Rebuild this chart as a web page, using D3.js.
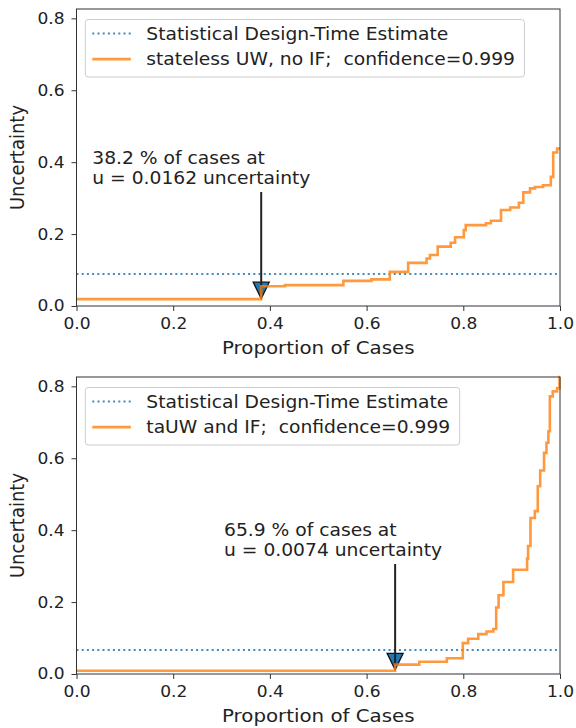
<!DOCTYPE html>
<html>
<head>
<meta charset="utf-8">
<script src="https://cdn.jsdelivr.net/npm/d3@7"></script>
<style>
  body { margin: 0; background: #fff; }
  text { font-family: "DejaVu Sans", sans-serif; fill: #222; white-space: pre; }
</style>
</head>
<body>
<svg id="chart" width="576" height="728"></svg>
<script>
// ---- data ----
const xTicks = [0, 0.2, 0.4, 0.6, 0.8, 1.0];
const yTicks = [0, 0.2, 0.4, 0.6, 0.8];

// top panel: stateless UW, no IF (step-after points)
const topX = [0, 0.382, 0.431, 0.552, 0.610, 0.648, 0.686, 0.724, 0.731, 0.747, 0.774, 0.783,
  0.801, 0.805, 0.847, 0.857, 0.878, 0.897, 0.915, 0.924, 0.938, 0.948, 0.965, 0.981, 0.986, 0.994, 1.0];
const topY = [0.019, 0.055, 0.058, 0.070, 0.074, 0.095, 0.120, 0.132, 0.142, 0.165, 0.176, 0.191,
  0.211, 0.225, 0.230, 0.237, 0.267, 0.274, 0.287, 0.316, 0.327, 0.331, 0.336, 0.359, 0.427, 0.438, 0.438];
const topEstimate = 0.089;

// bottom panel: taUW and IF
const botX = [0, 0.659, 0.709, 0.766, 0.799, 0.810, 0.831, 0.848, 0.862, 0.868, 0.873, 0.883, 0.903,
  0.932, 0.934, 0.939, 0.948, 0.954, 0.959, 0.967, 0.972, 0.976, 0.979, 0.985, 0.994, 0.999, 1.0];
const botY = [0.009, 0.026, 0.034, 0.044, 0.086, 0.098, 0.111, 0.118, 0.125, 0.185, 0.219, 0.256, 0.290,
  0.321, 0.356, 0.434, 0.453, 0.522, 0.566, 0.615, 0.643, 0.675, 0.772, 0.786, 0.795, 0.826, 0.826];
const botEstimate = 0.067;

const estimateLabel = "Statistical Design-Time Estimate";
const topLabel = "stateless UW, no IF;  confidence=0.999";
const botLabel = "taUW and IF;  confidence=0.999";
const topNote = ["38.2 % of cases at", "u = 0.0162 uncertainty"];
const botNote = ["65.9 % of cases at", "u = 0.0074 uncertainty"];
const topMark = [0.382, 0.0162];
const botMark = [0.659, 0.0074];

// ---- layout ----
const SX = 1.1;   // picture is a little wider than tall
const left = 76.5, plotW = 483.5, plotH = 297;
const blue = "#1f77b4", orange = "#ff7f0e";

const svg = d3.select("#chart");

function label(g, x, y, str, size, anchor, rot) {
  const t = g.append("text")
    .attr("font-size", size)
    .attr("text-anchor", anchor || "start")
    .attr("transform", rot ? `translate(${x},${y}) rotate(-90) scale(1,${SX})`
                           : `translate(${x},${y}) scale(${SX},1)`)
    .text(str);
  return t;
}

function panel(top, xs, ys, estimate, seriesLabel, note, noteX, noteY, mark) {
  const g = svg.append("g").attr("transform", `translate(${left},${top})`);

  const x = d3.scaleLinear().domain([0, 1]).range([0, plotW]);
  const y = d3.scaleLinear().domain([0, 0.826]).range([plotH, 0]);

  // axes
  const xa = g.append("g").attr("transform", `translate(0,${plotH})`)
    .call(d3.axisBottom(x).tickValues(xTicks).tickFormat(d3.format(".1f")).tickSize(5).tickPadding(7));
  const ya = g.append("g")
    .call(d3.axisLeft(y).tickValues(yTicks).tickFormat(d3.format(".1f")).tickSize(5).tickPadding(7));
  [xa, ya].forEach(a => {
    a.select(".domain").remove();
    a.selectAll("line").attr("stroke", "#333");
    a.selectAll("text").attr("font-size", 15.5).attr("fill", "#222")
      .attr("font-family", "DejaVu Sans");
  });
  xa.selectAll("text").attr("transform", `scale(${SX},1)`);
  ya.selectAll("text").attr("x", -12 / SX).attr("transform", `scale(${SX},1)`);

  label(g, plotW / 2, plotH + 48, "Proportion of Cases", 18, "middle");
  label(g, -left + 24, plotH / 2, "Uncertainty", 18, "middle", true);

  // statistical estimate
  g.append("line")
    .attr("x1", 0).attr("x2", plotW)
    .attr("y1", y(estimate)).attr("y2", y(estimate))
    .attr("stroke", blue).attr("stroke-width", 2).attr("stroke-opacity", 0.85)
    .attr("stroke-dasharray", "2,3.2");

  // marker + arrow
  const mx = x(mark[0]), my = y(mark[1]);
  g.append("path")
    .attr("d", `M${mx - 8},${my - 18} L${mx + 8},${my - 18} L${mx},${my - 1.5} Z`)
    .attr("fill", blue).attr("stroke", "#111").attr("stroke-width", 1.3);
  g.append("line")
    .attr("x1", mx).attr("x2", mx)
    .attr("y1", noteY + 8).attr("y2", my - 6)
    .attr("stroke", "#222").attr("stroke-width", 2);

  // step curve
  const pts = xs.map((d, i) => [d, ys[i]]);
  g.append("path")
    .attr("d", d3.line().x(d => x(d[0])).y(d => y(d[1])).curve(d3.curveStepAfter)(pts))
    .attr("fill", "none").attr("stroke", orange).attr("stroke-opacity", 0.8)
    .attr("stroke-width", 2.6);

  // annotation text
  note.forEach((s, i) => label(g, noteX, noteY - 20 + i * 20, s, 17));

  // frame
  g.append("rect").attr("width", plotW).attr("height", plotH)
    .attr("fill", "none").attr("stroke", "#333").attr("stroke-width", 1);

  // legend
  const lg = g.append("g").attr("transform", "translate(8.8,10.5)");
  const box = lg.append("rect").attr("height", 57.5).attr("rx", 3)
    .attr("fill", "#fff").attr("fill-opacity", 0.8)
    .attr("stroke", "#cccccc").attr("stroke-width", 1);
  const rows = [
    { text: estimateLabel, color: blue, dash: "2,3.2", w: 2, op: 0.85 },
    { text: seriesLabel, color: orange, dash: null, w: 2.6, op: 0.8 }
  ];
  let maxW = 0;
  rows.forEach((r, i) => {
    const cy = 14 + i * 25.6;
    lg.append("line").attr("x1", 7).attr("x2", 45.5).attr("y1", cy).attr("y2", cy)
      .attr("stroke", r.color).attr("stroke-width", r.w).attr("stroke-opacity", r.op)
      .attr("stroke-dasharray", r.dash);
    const t = label(lg, 61, cy + 6, r.text, 17);
    maxW = Math.max(maxW, t.node().getComputedTextLength() * SX);
  });
  box.attr("width", 61 + maxW + 9.5);
}

panel(9, topX, topY, topEstimate, topLabel, topNote, 15.8, 175, topMark);
panel(377, botX, botY, botEstimate, botLabel, botNote, 147.5, 179, botMark);
</script>
</body>
</html>
